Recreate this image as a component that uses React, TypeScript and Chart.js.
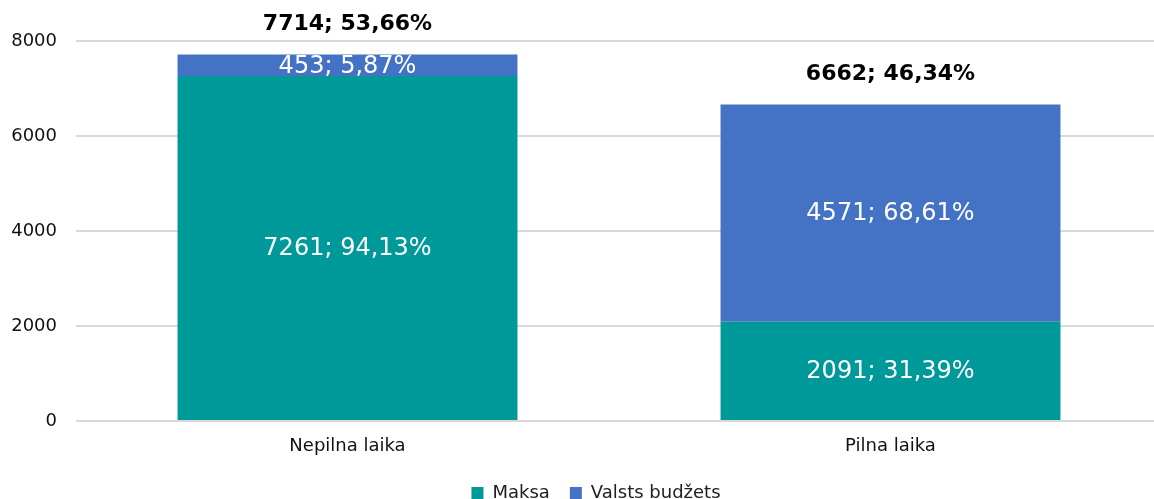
import React, { useEffect, useRef } from "react";
import { Chart, registerables } from "chart.js";

Chart.register(...registerables);

const categories = ["Nepilna laika", "Pilna laika"];
const maksaValues = [7261, 2091];
const budzetsValues = [453, 4571];
const maksaPct = ["94,13%", "31,39%"];
const budzetsPct = ["5,87%", "68,61%"];
const totalPct = ["53,66%", "46,34%"];
const yTicks = [0, 2000, 4000, 6000, 8000];

const FONT = "'DejaVu Sans', Verdana, sans-serif";

const labelPlugin = {
  id: "segLabels",
  afterLayout(chart: any) {
    if (chart.legend) {
      chart.legend.left += 15;
      chart.legend.right += 15;
    }
  },
  afterDatasetsDraw(chart: any) {
    const ctx = chart.ctx;
    ctx.save();
    ctx.textAlign = "center";
    ctx.textBaseline = "middle";
    const pcts = [maksaPct, budzetsPct];
    const vals = [maksaValues, budzetsValues];
    chart.data.datasets.forEach((ds: any, di: number) => {
      const meta = chart.getDatasetMeta(di);
      meta.data.forEach((bar: any, i: number) => {
        const y = (bar.y + bar.base) / 2;
        ctx.fillStyle = "#ffffff";
        ctx.font = `24px ${FONT}`;
        ctx.fillText(`${vals[di][i]}; ${pcts[di][i]}`, bar.x, y + 1);
      });
    });
    const top = chart.getDatasetMeta(1);
    top.data.forEach((bar: any, i: number) => {
      const total = maksaValues[i] + budzetsValues[i];
      ctx.fillStyle = "#000000";
      ctx.font = `bold 22px ${FONT}`;
      ctx.fillText(`${total}; ${totalPct[i]}`, bar.x, bar.y - 30);
    });
    ctx.restore();
  },
};

export default function App() {
  const ref = useRef<HTMLCanvasElement>(null);
  useEffect(() => {
    document.body.style.margin = "0";
    document.body.style.overflow = "hidden";
    const chart = new Chart(ref.current!, {
      type: "bar",
      data: {
        labels: categories,
        datasets: [
          {
            label: "Maksa",
            data: maksaValues,
            backgroundColor: "#009999",
            borderWidth: 0,
            barPercentage: 0.626,
            categoryPercentage: 1,
          },
          {
            label: "Valsts budžets",
            data: budzetsValues,
            backgroundColor: "#4472C4",
            borderWidth: 0,
            barPercentage: 0.626,
            categoryPercentage: 1,
          },
        ],
      },
      options: {
        animation: false,
        responsive: false,
        layout: { padding: { top: 41, right: 0, left: 0, bottom: 0 } },
        plugins: {
          legend: {
            position: "bottom",
            labels: {
              font: { family: FONT, size: 18 },
              color: "#202020",
              boxWidth: 12,
              boxHeight: 12,
              padding: 20,
            },
          },
          tooltip: { enabled: false },
        },
        scales: {
          x: {
            stacked: true,
            grid: { display: false },
            border: { display: false },
            ticks: { font: { family: FONT, size: 18 }, color: "#111111", padding: 7 },
            afterFit: (axis: any) => {
              axis.height = 43;
            },
          },
          y: {
            stacked: true,
            min: 0,
            max: 8000,
            afterBuildTicks: (axis: any) => {
              axis.ticks = yTicks.map((v) => ({ value: v }));
            },
            afterFit: (axis: any) => {
              axis.width = 76;
            },
            grid: { color: "#d9d9d9", lineWidth: 2, drawTicks: false },
            border: { display: false },
            ticks: {
              font: { family: FONT, size: 18 },
              color: "#111111",
              padding: 19,
              callback: (v: any) => String(v),
            },
          },
        },
      },
      plugins: [labelPlugin],
    });
    return () => chart.destroy();
  }, []);
  return (
    <div style={{ width: 1154, height: 499, overflow: "hidden" }}>
      <canvas ref={ref} width={1162} height={512} style={{ display: "block" }} />
    </div>
  );
}
